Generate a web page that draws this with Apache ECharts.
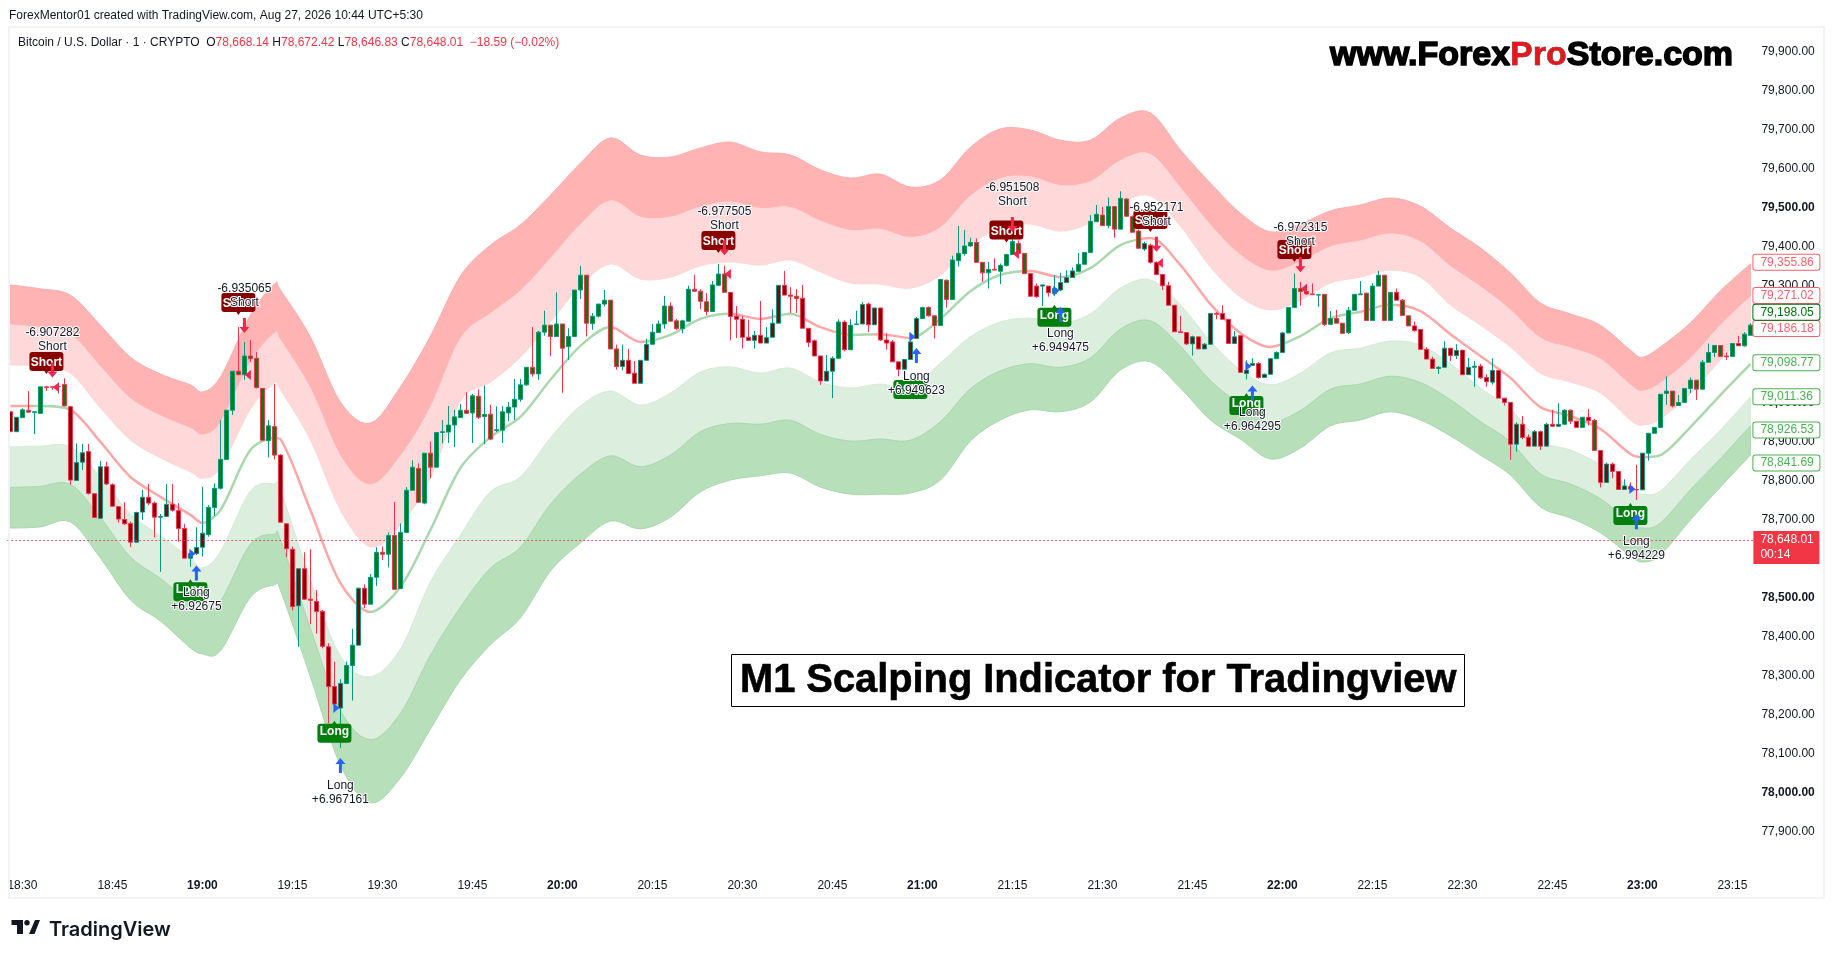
<!DOCTYPE html>
<html>
<head>
<meta charset="utf-8">
<title>M1 Scalping Indicator</title>
<style>html,body{margin:0;padding:0;background:#fff}#chart{width:1835px;height:958px}</style>
<script src="https://cdn.jsdelivr.net/npm/echarts@6/dist/echarts.min.js"></script>
</head>
<body>
<div id="chart"></div>
<script>
const firstBarMinute = 18 * 60 + 28;
const barCount = 291;
const categories = Array.from({length: barCount}, (_, k) => {
  const m = firstBarMinute + k;
  return String(Math.floor(m / 60)).padStart(2, '0') + ':' + String(m % 60).padStart(2, '0');
});

const candleOpen = [
78973,78922,78958,78977,78971,78969,79037,79037,79037,79043,
78986,78797,78844,78871,78763,78700,78832,78786,78730,78697,
78687,78639,78716,78754,78739,78703,78705,78736,78720,78674,
78598,78610,78626,78658,78728,78777,78851,78977,79077,79068,
79116,79110,79033,78899,78935,78862,78686,78621,78476,78571,
78493,78487,78462,78371,78269,78214,78277,78323,78375,78521,
78480,78549,78613,78608,78656,78520,78664,78772,78828,78739,
78867,78831,78920,78921,78939,78958,78977,78970,79013,78961,
78967,78925,78926,78970,78985,79005,79042,79087,79070,79177,
79195,79166,79198,79140,79166,79285,79323,79199,79218,79249,
79259,79134,79089,79105,79072,79046,79105,79146,79176,79198,
79244,79206,79186,79205,79287,79282,79255,79230,79297,79326,
79279,79218,79210,79164,79156,79169,79149,79164,79200,79297,
79272,79269,79264,79187,79155,79116,79052,79077,79110,79203,
79132,79197,79198,79249,79196,79239,79157,79152,79101,79082,
79107,79161,79212,79240,79219,79194,79310,79261,79360,79378,
79398,79407,79356,79329,79338,79333,79348,79376,79404,79379,
79327,79295,79295,79295,79276,79285,79304,79317,79333,79351,
79381,79460,79477,79450,79499,79441,79518,79473,79436,79390,
79400,79356,79325,79296,79246,79178,79176,79147,79165,79134,
79146,79225,79225,79210,79148,79168,79071,79092,79097,79061,
79069,79109,79125,79175,79240,79289,79281,79275,79272,79274,
79197,79212,79200,79176,79233,79273,79277,79207,79295,79323,
79207,79279,79259,79219,79193,79184,79133,79108,79084,79087,
79136,79117,79131,79068,79087,79090,79061,79049,79079,79008,
78997,78890,78941,78908,78885,78922,78885,78941,78936,78941,
78977,78949,78933,78959,78951,78874,78792,78839,78820,78774,
78781,78774,78773,78867,78918,78933,79020,79026,78989,78997,
79033,79054,79031,79100,79125,79143,79116,79115,79148,79142,
79169];
const candleClose = [
78922,78959,78978,78972,78973,79037,79035,79036,79038,78988,
78798,78843,78868,78764,78702,78832,78788,78731,78698,78686,
78639,78715,78754,78739,78703,78705,78736,78721,78674,78598,
78610,78625,78662,78728,78777,78851,78977,79077,79068,79116,
79109,79035,78900,78937,78862,78690,78622,78474,78571,78493,
78490,78461,78372,78269,78224,78277,78323,78375,78521,78480,
78549,78613,78608,78656,78518,78664,78772,78831,78741,78867,
78831,78920,78922,78939,78960,78977,78969,79014,78959,78966,
78903,78927,78973,78985,79005,79042,79087,79070,79177,79195,
79166,79198,79136,79166,79285,79323,79200,79218,79249,79259,
79134,79089,79105,79071,79046,79105,79146,79177,79198,79244,
79205,79186,79206,79287,79282,79256,79230,79298,79326,79279,
79217,79210,79164,79156,79169,79149,79163,79200,79297,79272,
79269,79263,79187,79151,79116,79052,79077,79110,79203,79132,
79195,79198,79248,79196,79239,79157,79149,79101,79082,79107,
79152,79212,79240,79219,79194,79312,79261,79362,79379,79398,
79407,79356,79329,79338,79336,79348,79376,79409,79379,79327,
79269,79268,79298,79278,79289,79304,79317,79334,79351,79381,
79461,79479,79450,79499,79441,79520,79474,79433,79392,79404,
79356,79325,79296,79246,79178,79176,79147,79165,79134,79146,
79225,79223,79210,79148,79165,79074,79080,79097,79061,79069,
79109,79125,79175,79240,79289,79281,79275,79273,79273,79197,
79212,79200,79174,79233,79274,79275,79207,79295,79323,79207,
79279,79259,79220,79193,79181,79133,79108,79084,79087,79136,
79117,79130,79068,79087,79090,79060,79050,79079,79008,78997,
78890,78941,78907,78885,78922,78885,78941,78936,78941,78977,
78949,78933,78959,78950,78874,78792,78839,78820,78774,78783,
78775,78773,78867,78918,78933,79018,79026,78988,78997,79033,
79054,79031,79100,79125,79143,79115,79114,79148,79142,79172,
79195];
const candleLow = [
78922,78922,78958,78972,78916,78969,79027,79029,79020,78988,
78786,78797,78824,78761,78702,78700,78786,78730,78689,78683,
78626,78639,78696,78734,78651,78563,78704,78717,78640,78598,
78576,78606,78602,78653,78706,78774,78851,78965,79067,79055,
79101,79033,78900,78856,78851,78690,78600,78464,78371,78491,
78429,78405,78367,78175,78222,78112,78275,78233,78375,78470,
78480,78527,78593,78574,78516,78520,78664,78772,78740,78736,
78803,78831,78892,78893,78883,78958,78969,78893,78955,78890,
78900,78921,78893,78949,78952,78999,79040,79063,79055,79168,
79116,79166,79022,79106,79166,79262,79166,79183,79215,79243,
79134,79081,79079,79070,79046,79046,79105,79146,79176,79186,
79205,79183,79174,79205,79280,79236,79220,79230,79297,79279,
79156,79162,79135,79156,79135,79149,79149,79164,79200,79272,
79226,79226,79187,79139,79116,79042,79052,79008,79110,79128,
79132,79195,79198,79177,79196,79155,79132,79101,79064,79082,
79107,79161,79212,79217,79161,79194,79240,79261,79345,79373,
79395,79356,79306,79289,79336,79300,79345,79376,79375,79327,
79269,79265,79244,79268,79270,79282,79304,79317,79333,79351,
79381,79460,79450,79443,79419,79441,79474,79433,79390,79385,
79353,79323,79285,79246,79178,79176,79144,79117,79134,79134,
79146,79210,79210,79148,79148,79074,79056,79090,79058,79060,
79069,79109,79125,79175,79240,79245,79273,79273,79242,79193,
79197,79200,79174,79172,79233,79273,79207,79207,79295,79207,
79207,79259,79220,79193,79178,79133,79108,79084,79070,79087,
79103,79108,79068,79068,79037,79057,79037,79043,79008,78989,
78850,78871,78903,78885,78885,78875,78885,78936,78936,78941,
78942,78933,78933,78938,78874,78779,78792,78803,78774,78774,
78770,78747,78773,78848,78918,78933,78991,78984,78989,78997,
79021,79003,79031,79100,79113,79115,79106,79115,79142,79140,
79169];
const candleHigh = [
78973,78959,78982,79026,78973,79037,79037,79037,79048,79059,
78986,78892,78891,78891,78763,78847,78845,78790,78730,78741,
78692,78717,78773,78788,78743,78711,78788,78788,78739,78686,
78619,78677,78781,78734,78790,78952,78977,79077,79190,79152,
79157,79126,79033,78952,79044,78864,78686,78628,78571,78613,
78621,78516,78465,78380,78333,78288,78333,78417,78521,78531,
78557,78626,78628,78664,78742,78687,78780,78849,78841,78867,
78897,78920,78952,78988,78978,78993,79023,79019,79031,79040,
78991,78987,78988,78998,79057,79057,79087,79190,79180,79232,
79195,79279,79198,79187,79285,79347,79323,79226,79249,79285,
79259,79145,79145,79134,79103,79105,79160,79198,79207,79270,
79253,79211,79209,79296,79324,79287,79277,79308,79352,79347,
79279,79244,79219,79209,79180,79257,79190,79236,79297,79334,
79292,79287,79298,79187,79158,79116,79119,79115,79210,79207,
79210,79232,79254,79253,79239,79239,79174,79157,79101,79107,
79173,79216,79242,79243,79219,79312,79312,79373,79449,79439,
79419,79417,79356,79357,79366,79353,79376,79415,79412,79379,
79327,79302,79299,79295,79323,79329,79336,79343,79380,79381,
79477,79503,79498,79522,79499,79538,79520,79476,79440,79409,
79404,79358,79325,79306,79246,79219,79176,79168,79165,79149,
79225,79228,79246,79210,79180,79168,79105,79110,79100,79071,
79109,79128,79178,79240,79327,79306,79299,79302,79273,79274,
79231,79234,79200,79242,79274,79308,79277,79302,79334,79323,
79279,79289,79262,79219,79204,79184,79138,79114,79090,79154,
79136,79146,79131,79111,79103,79096,79069,79110,79079,79008,
78997,78946,78962,78915,78926,78925,78945,78978,78995,78980,
78979,78949,78959,78980,78955,78874,78843,78843,78820,78800,
78792,78837,78867,78918,78933,79018,79063,79026,79016,79033,
79061,79054,79106,79148,79143,79143,79125,79148,79167,79177,
79200];
// bars whose body is filled dark red (first and last bar of each run)
const darkFillRuns = [[0,1],[10,32],[45,55],[58,59],[102,106],[120,129],[132,137],[139,139],[142,151],[170,173],[175,177],[189,210],[212,212],[231,231],[234,258],[261,261],[263,263],[265,272],[288,288]];
// bars where the middle line is green; it is red elsewhere
const greenLineRuns = [[4,9],[33,44],[60,99],[106,119],[128,131],[138,143],[151,168],[176,187],[212,224],[227,230],[273,290]];

const bandBars = [0,5,10,15,20,25,30,32,35,40,44,45,50,55,60,65,70,75,80,85,90,95,100,105,110,115,120,125,130,135,140,145,150,155,160,165,170,175,180,185,190,195,200,205,210,215,220,225,230,235,240,245,250,255,260,265,270,272,275,280,285,290];
const bandTop = [79298,79288,79272,79195,79113,79070,79042,79024,79062,79221,79300,79285,79165,78998,78944,79037,79167,79321,79400,79452,79528,79610,79675,79631,79626,79649,79664,79639,79631,79593,79572,79582,79549,79567,79651,79698,79695,79669,79669,79726,79739,79644,79559,79482,79434,79454,79488,79503,79521,79500,79444,79393,79329,79252,79224,79195,79131,79113,79139,79201,79283,79352];
const bandUpperMid = [79196,79189,79172,79089,79007,78963,78931,78914,78946,79101,79174,79157,79033,78860,78786,78860,78985,79161,79225,79283,79366,79453,79514,79472,79472,79498,79511,79494,79497,79462,79438,79441,79420,79445,79526,79571,79575,79553,79563,79617,79633,79547,79452,79375,79334,79357,79396,79411,79429,79409,79346,79294,79234,79162,79137,79108,79042,79026,79047,79110,79195,79268];
const bandUpperInner = [79093,79090,79072,78983,78901,78855,78819,78803,78829,78980,79047,79029,78901,78721,78627,78683,78803,79001,79049,79113,79203,79295,79352,79313,79318,79347,79357,79349,79362,79331,79303,79300,79290,79323,79400,79444,79454,79436,79457,79508,79526,79449,79344,79267,79234,79259,79303,79318,79336,79318,79247,79195,79139,79072,79049,79021,78952,78939,78955,79019,79106,79183];
const middleLine = [78988,78988,78978,78896,78806,78755,78709,78688,78721,78875,78906,78903,78721,78534,78460,78524,78670,78829,78908,78960,79055,79142,79190,79152,79170,79211,79224,79211,79224,79190,79170,79172,79162,79211,79282,79324,79334,79318,79341,79400,79418,79349,79249,79175,79139,79167,79213,79229,79247,79231,79172,79116,79060,78985,78962,78929,78865,78857,78862,78934,79016,79095];
const bandLowerInner = [78883,78885,78883,78806,78711,78655,78598,78573,78614,78770,78788,78773,78542,78347,78294,78365,78537,78657,78768,78806,78906,78988,79026,78990,79021,79075,79088,79072,79085,79049,79034,79044,79034,79098,79165,79203,79213,79200,79224,79290,79311,79247,79154,79080,79042,79072,79124,79136,79154,79144,79096,79034,78980,78898,78875,78837,78778,78762,78770,78850,78926,79011];
const bandLowerMid = [78779,78782,78787,78702,78601,78546,78483,78463,78487,78634,78659,78645,78418,78208,78133,78200,78349,78472,78572,78626,78736,78813,78860,78832,78862,78922,78943,78941,78951,78915,78898,78903,78900,78948,79032,79078,79096,79087,79111,79185,79206,79141,79053,78992,78947,78976,79031,79044,79064,79048,79004,78948,78896,78814,78788,78750,78691,78675,78688,78773,78853,78937];
const bandBottom = [78675,78678,78691,78598,78491,78437,78368,78353,78360,78498,78529,78516,78294,78068,77971,78035,78160,78286,78376,78445,78565,78637,78693,78673,78703,78768,78798,78809,78816,78780,78762,78762,78765,78798,78898,78952,78978,78973,78998,79080,79101,79034,78952,78903,78852,78880,78937,78952,78973,78952,78911,78862,78811,78729,78701,78663,78604,78588,78606,78696,78780,78862];

const shortBoxBars = [6,38,118,166,190,214];
const shortBoxPrices = [79098,79249,79408,79435,79462,79385];
const shortArrowPrices = [79080,79194,79393,79453,79402,79350];
const shortTrianglePrices = [79036,79067,79326,79377,79354,79288];
const shortTextPrices = [79157,79270,79467,79528,79477,79427];
const shortTexts = ['-6.907282','-6.935065','-6.977505','-6.951508','-6.952171','-6.972315'];

const longBoxBars = [30,54,150,174,206,270];
const longBoxPrices = [78516,78153,79034,79219,78993,78711];
const longArrowPrices = [78560,78067,79117,79222,79021,78691];
const longTrianglePrices = [78609,78214,79165,79283,79090,78775];
const longTextPrices = [78491,77998,79046,79155,78952,78622];
const longTexts = ['+6.92675','+6.967161','+6.949623','+6.949475','+6.964295','+6.994229'];

const redLevelLabels = [79355.86,79271.02,79186.18];
const greenLevelLabels = [79098.77,79011.36,78926.53,78841.69];
const lastBarLabel = 79198.05;
const lastBarTagCentre = 79228;   // the tag is pushed up so it does not cover 79,186.18
const currentPrice = 78648.01;
const currentPriceLine = 78644;
const priceTagCentre = 78625;
const countdownText = '00:14';

const font = '"Liberation Sans", Arial, sans-serif';
const fmtPrice = v => Number(v).toLocaleString('en-US', {minimumFractionDigits: 2, maximumFractionDigits: 2});
const inRuns = (runs, i) => runs.some(r => i >= r[0] && i <= r[1]);

const candleData = categories.map((_, i) => {
  const fill = inRuns(darkFillRuns, i) ? '#880000' : '#007F0E';
  return {value: [candleOpen[i], candleClose[i], candleLow[i], candleHigh[i]],
          itemStyle: {color: fill, color0: fill, borderColorDoji: candleClose[i] >= candleOpen[i] ? '#089981' : '#F7324B'}};
});

// Rounds one band edge on screen between the coordinates the axes gave for its points.
function roundEdge(pts) {
  const out = [];
  for (let i = 0; i < pts.length - 1; i++) {
    const p0 = pts[Math.max(i - 1, 0)], p1 = pts[i], p2 = pts[i + 1], p3 = pts[Math.min(i + 2, pts.length - 1)];
    for (let s = 0; s < 6; s++) {
      const t = s / 6, t2 = t * t, t3 = t2 * t;
      out.push([0, 1].map(d => 0.5 * (2 * p1[d] + (p2[d] - p0[d]) * t + (2 * p0[d] - 5 * p1[d] + 4 * p2[d] - p3[d]) * t2 + (3 * p1[d] - p0[d] - 3 * p2[d] + p3[d]) * t3)));
    }
  }
  out.push(pts[pts.length - 1]);
  return out;
}

function bandSeries(name, upper, lower, fill, stroke) {
  const rows = bandBars.map((b, k) => [b, upper[k], lower[k]]);
  return {
    type: 'custom', name, z: 2, silent: true, data: rows,
    encode: {x: 0, y: [1, 2]}, clip: true,
    renderItem(params, api) {
      if (params.dataIndex !== 0) return null;
      const up = roundEdge(rows.map(r => api.coord([r[0], r[1]])));
      const lo = roundEdge(rows.map(r => api.coord([r[0], r[2]]))).reverse();
      return {type: 'polygon', shape: {points: up.concat(lo)}, style: {fill, stroke, lineWidth: 1}};
    }
  };
}

function linePieces() {
  const pieces = [];
  let cur = 0;
  greenLineRuns.forEach(r => {
    if (r[0] > cur) pieces.push({gte: cur, lt: r[0], color: '#FFA6A6'});
    pieces.push({gte: r[0], lt: r[1] + 1, color: '#A8D8AC'});
    cur = r[1] + 1;
  });
  if (cur < barCount) pieces.push({gte: cur, lte: barCount, color: '#FFA6A6'});
  return pieces;
}

const shortBoxPath = 'path://M3 0H31Q34 0 34 3V16Q34 19 31 19H19L17 22L15 19H3Q0 19 0 16V3Q0 0 3 0Z';
const longBoxPath = 'path://M3 3H15L17 0L19 3H31Q34 3 34 6V19Q34 22 31 22H3Q0 22 0 19V6Q0 3 3 3Z';
const arrowDownPath = 'path://M3.5 0H6.5V9H10L5 15L0 9H3.5Z';
const arrowUpPath = 'path://M3.5 15H6.5V6H10L5 0L0 6H3.5Z';
const triRight = 'path://M0 0L6 5L0 10Z';
const triLeft = 'path://M6 0L0 5L6 10Z';

const boxLabel = (text) => ({show: true, position: 'inside', formatter: text, color: '#fff', fontFamily: font, fontSize: 12, fontWeight: 'bold'});
const noMark = {color: 'rgba(0,0,0,0)', opacity: 1};

const signalSeries = [
  {type:'scatter', name:'Short tags', z:6, symbol:shortBoxPath, symbolSize:[34,22], itemStyle:{color:'#880000',opacity:1}, label:boxLabel('Short'), data:shortBoxBars.map((b,k)=>[b,shortBoxPrices[k]])},
  {type:'scatter', name:'Long tags', z:6, symbol:longBoxPath, symbolSize:[34,22], itemStyle:{color:'#007F0E',opacity:1}, label:boxLabel('Long'), data:longBoxBars.map((b,k)=>[b,longBoxPrices[k]])},
  {type:'scatter', name:'Short triangles', z:6, symbol:triLeft, symbolSize:[6,10], symbolOffset:[-2.5,0], itemStyle:{color:'#F7234A',opacity:1}, data:shortBoxBars.map((b,k)=>[b+2,shortTrianglePrices[k]])},
  {type:'scatter', name:'Long triangles', z:6, symbol:triRight, symbolSize:[6,10], symbolOffset:[2,0], itemStyle:{color:'#2962FF',opacity:1}, data:longBoxBars.map((b,k)=>[b,longTrianglePrices[k]])},
  {type:'scatter', name:'Short arrows', z:7, symbol:arrowDownPath, symbolSize:[10,15], itemStyle:{color:'#F7234A',opacity:1}, data:shortBoxBars.map((b,k)=>[b+1,shortArrowPrices[k]])},
  {type:'scatter', name:'Long arrows', z:7, symbol:arrowUpPath, symbolSize:[10,15], itemStyle:{color:'#2962FF',opacity:1}, data:longBoxBars.map((b,k)=>[b+1,longArrowPrices[k]])},
  {type:'scatter', name:'Short texts', z:8, symbol:'circle', symbolSize:1, itemStyle:noMark,
   label:{show:true, position:'inside', color:'#131722', fontFamily:font, fontSize:12, lineHeight:14, textBorderColor:'#fff', textBorderWidth:2, formatter:p=>shortTexts[p.dataIndex]+'\nShort'},
   data:shortBoxBars.map((b,k)=>[b+1,shortTextPrices[k]])},
  {type:'scatter', name:'Long texts', z:8, symbol:'circle', symbolSize:1, itemStyle:noMark,
   label:{show:true, position:'inside', color:'#131722', fontFamily:font, fontSize:12, lineHeight:14, textBorderColor:'#fff', textBorderWidth:2, formatter:p=>'Long\n'+longTexts[p.dataIndex]},
   data:longBoxBars.map((b,k)=>[b+1,longTextPrices[k]])}
];

const hiddenLine = {color: 'rgba(0,0,0,0)', opacity: 1, width: 1};
const levelTag = (value, color, centre) => ({
  yAxis: centre === undefined ? value : centre, lineStyle: hiddenLine,
  label: {show: true, opacity: 1, position: 'end', distance: 0, formatter: fmtPrice(value), color, backgroundColor: '#fff',
    borderColor: color, borderWidth: 1, borderRadius: 2, padding: [2, 6, 1, 7], fontFamily: font, fontSize: 12, width: 53, align: 'left'}
});

const middleIndex = 4;
const option = {
  animation: false,
  backgroundColor: '#fff',
  grid: {left: 7.4, right: 1835 - 1753.4, top: 10.97, height: 858.63, containLabel: false},
  xAxis: {
    type: 'category', data: categories, boundaryGap: true,
    axisLine: {show: false}, axisTick: {show: false}, splitLine: {show: false},
    axisLabel: {
      margin: 10, color: '#131722', fontFamily: font, fontSize: 12, hideOverlap: false,
      interval: (i, v) => Number(v.slice(3)) % 15 === 0,
      formatter: v => v.endsWith(':00') ? '{b|' + v + '}' : v,
      rich: {b: {fontWeight: 'bold', color: '#131722', fontFamily: font, fontSize: 12}}
    }
  },
  yAxis: {
    type: 'value', position: 'right', min: 77800, max: 80000, interval: 100, scale: true,
    axisLine: {show: false}, axisTick: {show: false}, splitLine: {show: false},
    axisLabel: {
      margin: 8, color: '#131722', fontFamily: font, fontSize: 12, showMinLabel: false, showMaxLabel: false, padding: [3, 0, 0, 0],
      formatter: v => v % 500 === 0 ? '{b|' + fmtPrice(v) + '}' : fmtPrice(v),
      rich: {b: {fontWeight: 'bold', color: '#131722', fontFamily: font, fontSize: 12}}
    }
  },
  visualMap: [{type: 'piecewise', show: false, dimension: 0, seriesIndex: middleIndex, pieces: linePieces()}],
  title: [
    {text: 'ForexMentor01 created with TradingView.com, Aug 27, 2026 10:44 UTC+5:30', left: 9, top: 10, padding: 0,
     textStyle: {fontFamily: font, fontSize: 12, fontWeight: 'normal', color: '#131722'}},
    {text: 'Bitcoin / U.S. Dollar · 1 · CRYPTO  O{r|78,668.14} H{r|78,672.42} L{r|78,646.83} C{r|78,648.01}  {r|−18.59 (−0.02%)}', left: 18, top: 37, padding: 0,
     textStyle: {fontFamily: font, fontSize: 12, fontWeight: 'normal', color: '#131722', rich: {r: {color: '#F23645', fontFamily: font, fontSize: 12}}}},
    {text: 'www.Forex{p|Pro}Store.com', left: 1330, top: 39, padding: 0,
     textStyle: {fontFamily: font, fontSize: 34, fontWeight: 'bold', color: '#000', textBorderColor: '#000', textBorderWidth: 1.5,
       rich: {p: {color: '#E5171C', fontFamily: font, fontSize: 34, fontWeight: 'bold', textBorderColor: '#000', textBorderWidth: 0.5}}}},
    {text: 'M1 Scalping Indicator for Tradingview', left: 732, top: 655, padding: [6, 8, 5, 8], backgroundColor: '#fff', borderColor: '#000', borderWidth: 1,
     textStyle: {fontFamily: font, fontSize: 39.8, fontWeight: 'bold', color: '#000', textBorderColor: '#000', textBorderWidth: 0.6}},
    {text: 'TradingView', left: 49, top: 920, padding: 0,
     textStyle: {fontFamily: '"Inter", ' + font, fontSize: 20, fontWeight: 600, color: '#131722'}}
  ],
  graphic: [
    {type: 'rect', z: 100, silent: true, shape: {x: 9, y: 27, width: 1815, height: 871}, style: {fill: 'none', stroke: '#F2F3F5', lineWidth: 2}},
    {type: 'polygon', silent: true, shape: {points: [[11.5,920],[23,920],[23,934],[17,934],[17,925],[11.5,925]]}, style: {fill: '#131722'}},
    {type: 'circle', silent: true, shape: {cx: 27, cy: 922.7, r: 2.7}, style: {fill: '#131722'}},
    {type: 'polygon', silent: true, shape: {points: [[35,920],[40,920],[34.5,934],[29,934]]}, style: {fill: '#131722'}}
  ],
  series: [
    bandSeries('Upper band outer', bandTop, bandUpperMid, '#FFB3B3', '#FDAEAE'),
    bandSeries('Upper band inner', bandUpperMid, bandUpperInner, '#FFD9D9', '#FFD5D5'),
    bandSeries('Lower band inner', bandLowerInner, bandLowerMid, '#DCEEDD', '#D4EAD6'),
    bandSeries('Lower band outer', bandLowerMid, bandBottom, '#B6DFBA', '#A9D8AE'),
    {type: 'line', name: 'Middle', z: 3, clip: false, showSymbol: false, symbol: 'none', smooth: 0.3, silent: true,
     lineStyle: {width: 2.5}, data: bandBars.map((b, k) => [categories[b], middleLine[k]]),
     markLine: {silent: true, symbol: 'none', animation: false, precision: 2, z: 9, data: [
       {yAxis: currentPriceLine, lineStyle: {color: '#F23645', type: [1.5, 2.5], width: 1, opacity: 1}, label: {show: false}},
       ...greenLevelLabels.map(v => levelTag(v, '#4CAF50')),
       ...redLevelLabels.map(v => levelTag(v, '#F7636D')),
       levelTag(lastBarLabel, '#006E0A', lastBarTagCentre),
       {yAxis: priceTagCentre, lineStyle: hiddenLine,
        label: {show: true, opacity: 1, position: 'end', distance: 0, formatter: fmtPrice(currentPrice) + '\n' + countdownText, color: '#fff', backgroundColor: '#F23645',
                padding: [2, 6, 1, 7], fontFamily: font, fontSize: 12, lineHeight: 15, width: 53, align: 'left'}}
     ]}},
    {type: 'candlestick', name: 'BTCUSD', z: 5, barWidth: 4, silent: true, data: candleData,
     itemStyle: {borderColor: '#089981', borderColor0: '#F7324B', borderWidth: 1}},
    ...signalSeries
  ]
};
const chart = echarts.init(document.getElementById('chart'), null, {renderer: 'canvas', width: 1835, height: 958});
chart.setOption(option);
</script>
</body>
</html>
